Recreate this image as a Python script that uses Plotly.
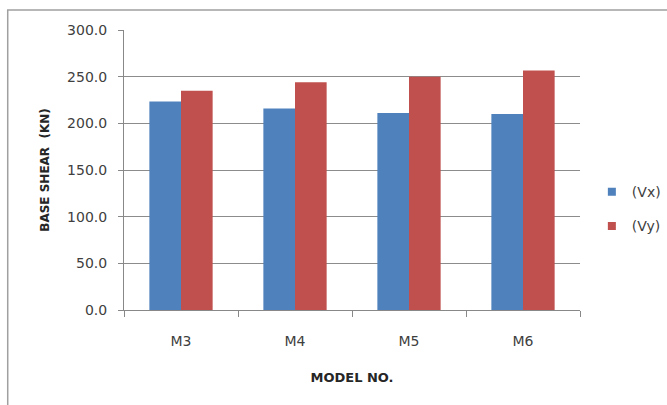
import plotly.graph_objects as go

models = ["M3", "M4", "M5", "M6"]
vx = [223.5, 216.0, 211.0, 210.0]
vy = [235.0, 244.0, 250.0, 256.5]
y_ticks = [0, 50, 100, 150, 200, 250, 300]

series = [("(Vx)", vx, "#4F81BD"), ("(Vy)", vy, "#C0504D")]

font_family = "'DejaVu Sans', sans-serif"

fig = go.Figure()
for name, values, color in series:
    fig.add_trace(go.Bar(name=name, x=models, y=values, marker_color=color,
                         marker_line_width=0, showlegend=False))
# small square legend keys
for name, _, color in series:
    fig.add_trace(go.Scatter(name=name, x=[None], y=[None], mode="markers",
                             marker=dict(symbol="square", size=8, color=color),
                             legendgroup=name, showlegend=True))

fig.update_layout(
    width=667, height=405,
    margin=dict(l=124, r=87, t=30, b=95, autoexpand=False),
    paper_bgcolor="white", plot_bgcolor="white",
    barmode="group", bargap=0.445, bargroupgap=0,
    font=dict(family=font_family, size=14, color="#404040"),
    showlegend=True,
    legend=dict(x=1.026, y=0.36, xanchor="left", yanchor="middle",
                font=dict(size=14, color="#404040"),
                itemwidth=30, tracegroupgap=13, traceorder="grouped"),
    shapes=[dict(type="rect", xref="paper", yref="paper",
                 x0=-0.255, x1=1.2, y0=-0.5, y1=1.071,
                 line=dict(color="#A0A0A0", width=1.5),
                 fillcolor="rgba(0,0,0,0)", layer="below")],
)

fig.update_xaxes(
    showline=True, linecolor="#888888", linewidth=1,
    ticks="outside", tickson="boundaries", ticklen=6, tickcolor="#888888",
    showgrid=False, ticklabelstandoff=18,
    title=dict(text="<b>MODEL NO.</b>", font=dict(size=13, color="#262626"),
               standoff=25),
    tickfont=dict(size=14, color="#404040"),
)
fig.update_yaxes(
    range=[0, 300], tickvals=y_ticks,
    ticktext=[f"{v:.1f}" for v in y_ticks],
    showline=True, linecolor="#888888", linewidth=1,
    ticks="outside", ticklen=5, tickcolor="#888888",
    showgrid=True, gridcolor="#8C8C8C", gridwidth=1,
    zeroline=False, ticklabelstandoff=8,
    title=dict(text="<b>BASE SHEAR  (KN)</b>", font=dict(size=12, color="#262626"),
               standoff=14),
    tickfont=dict(size=14, color="#404040"),
)

fig.write_html("out.html")
